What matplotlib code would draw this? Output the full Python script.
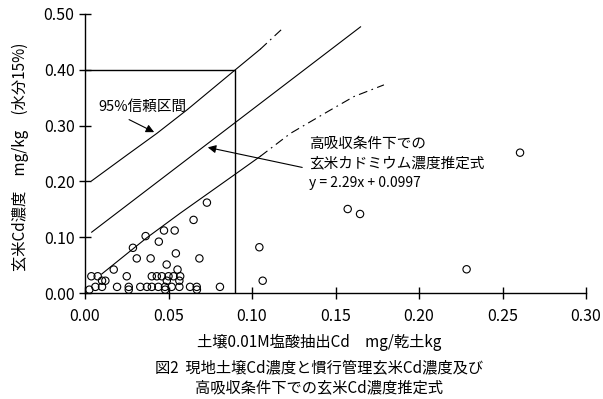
import matplotlib
matplotlib.use("Agg")
import matplotlib.pyplot as plt
from matplotlib.ticker import FormatStrFormatter

plt.rcParams['font.family'] = ['Noto Sans CJK JP', 'DejaVu Sans']

# ── data ──────────────────────────────────────────────────────────────────────
soil_cd = [0.073, 0.065, 0.0363, 0.0473, 0.0537, 0.0442, 0.0287, 0.0544,
           0.031, 0.0393, 0.0685, 0.0489, 0.0554, 0.0172,
           0.0038, 0.0076, 0.025, 0.040, 0.043, 0.046, 0.050, 0.053, 0.057,
           0.0102, 0.0122, 0.049, 0.0565,
           0.0062, 0.0102, 0.0192, 0.0262, 0.0331, 0.0371, 0.040, 0.0439,
           0.0479, 0.0519, 0.0565, 0.0629, 0.0669, 0.0808,
           0.0026, 0.0262, 0.048, 0.067,
           0.1044, 0.1064, 0.1573, 0.1647, 0.2285, 0.2605]
rice_cd = [0.162, 0.131, 0.102, 0.112, 0.112, 0.092, 0.081, 0.071,
           0.062, 0.062, 0.062, 0.051, 0.042, 0.042,
           0.030, 0.030, 0.030, 0.030, 0.030, 0.030, 0.030, 0.030, 0.030,
           0.022, 0.022, 0.022, 0.022,
           0.011, 0.011, 0.011, 0.011, 0.011, 0.011, 0.011, 0.011,
           0.011, 0.011, 0.011, 0.011, 0.011, 0.011,
           0.006, 0.006, 0.006, 0.006,
           0.082, 0.022, 0.1505, 0.1416, 0.0425, 0.2515]

# estimation line y = 2.29x + 0.0997
fit_x = [0.004, 0.165]
fit_y = [0.109, 0.477]

# 95% band, solid part and extrapolated (dash-dot) part
upper_x = [0.004, 0.025, 0.043, 0.061, 0.090, 0.105]
upper_y = [0.201, 0.247, 0.286, 0.328, 0.400, 0.437]
upper_ext_x = [0.105, 0.119]
upper_ext_y = [0.437, 0.476]

lower_x = [0.010, 0.037, 0.057, 0.090, 0.105]
lower_y = [0.034, 0.099, 0.143, 0.213, 0.245]
lower_ext_x = [0.105, 0.123, 0.147, 0.161, 0.179]
lower_ext_y = [0.245, 0.286, 0.328, 0.352, 0.373]

# guide box (soil 0.09 -> rice 0.40)
guide_x = [0.0, 0.09, 0.09]
guide_y = [0.40, 0.40, 0.0]

xticks = [0.00, 0.05, 0.10, 0.15, 0.20, 0.25, 0.30]
yticks = [0.00, 0.10, 0.20, 0.30, 0.40, 0.50]

# ── figure ────────────────────────────────────────────────────────────────────
fig = plt.figure(figsize=(6.03, 3.99), dpi=100)
ax = fig.add_axes([85 / 603, 1 - 293 / 399, 501 / 603, 279 / 399])

lw = 0.8
ax.plot(fit_x, fit_y, color="black", lw=lw)
ax.plot(upper_x, upper_y, color="black", lw=lw)
ax.plot(lower_x, lower_y, color="black", lw=lw)
dashdot = (0, (8, 4, 1.5, 4))
ax.plot(upper_ext_x, upper_ext_y, color="black", lw=lw, linestyle=dashdot)
ax.plot(lower_ext_x, lower_ext_y, color="black", lw=lw, linestyle=dashdot)
ax.plot(guide_x, guide_y, color="black", lw=1.0)

ax.scatter(soil_cd, rice_cd, s=28, facecolors="none", edgecolors="black",
           linewidths=0.8, zorder=3, clip_on=False)

ax.set_xlim(0, 0.30)
ax.set_ylim(0, 0.50)
ax.set_xticks(xticks)
ax.set_yticks(yticks)
ax.xaxis.set_major_formatter(FormatStrFormatter("%.2f"))
ax.yaxis.set_major_formatter(FormatStrFormatter("%.2f"))
ax.tick_params(direction="inout", length=9, width=1.0, labelsize=11.5,
               colors="black")
ax.tick_params(axis="x", pad=6)
ax.tick_params(axis="y", pad=3)
for s in ["top", "right"]:
    ax.spines[s].set_visible(False)
for s in ["left", "bottom"]:
    ax.spines[s].set_linewidth(1.0)

# annotations
ax.text(0.0078, 0.333, "95%信頼区間", fontsize=10.5, va="center", ha="left")
ax.annotate("", xy=(0.0429, 0.286), xytext=(0.0249, 0.313),
            arrowprops=dict(arrowstyle="-|>", color="black", lw=0.8,
                            mutation_scale=12))
ax.text(0.134, 0.268, "高吸収条件下での", fontsize=10.5, va="center", ha="left")
ax.text(0.134, 0.232, "玄米カドミウム濃度推定式", fontsize=10.5, va="center",
        ha="left")
ax.text(0.134, 0.198, "y = 2.29x + 0.0997", fontsize=10, va="center",
        ha="left")
ax.annotate("", xy=(0.0719, 0.262), xytext=(0.1317, 0.224),
            arrowprops=dict(arrowstyle="-|>", color="black", lw=0.8,
                            mutation_scale=12))

# axis titles and caption
fig.text(20 / 603, 1 - 157 / 399, "玄米Cd濃度　mg/kg　(水分15%)", rotation=90,
         fontsize=11, ha="center", va="center")
fig.text(319 / 603, 1 - 342 / 399, "土壌0.01M塩酸抽出Cd　mg/乾土kg",
         fontsize=11, ha="center", va="center")
fig.text(319 / 603, 1 - 368 / 399, "図2  現地土壌Cd濃度と慣行管理玄米Cd濃度及び",
         fontsize=11, ha="center", va="center")
fig.text(319 / 603, 1 - 388 / 399, "高吸収条件下での玄米Cd濃度推定式",
         fontsize=11, ha="center", va="center")

fig.savefig("out.png", dpi=100)
